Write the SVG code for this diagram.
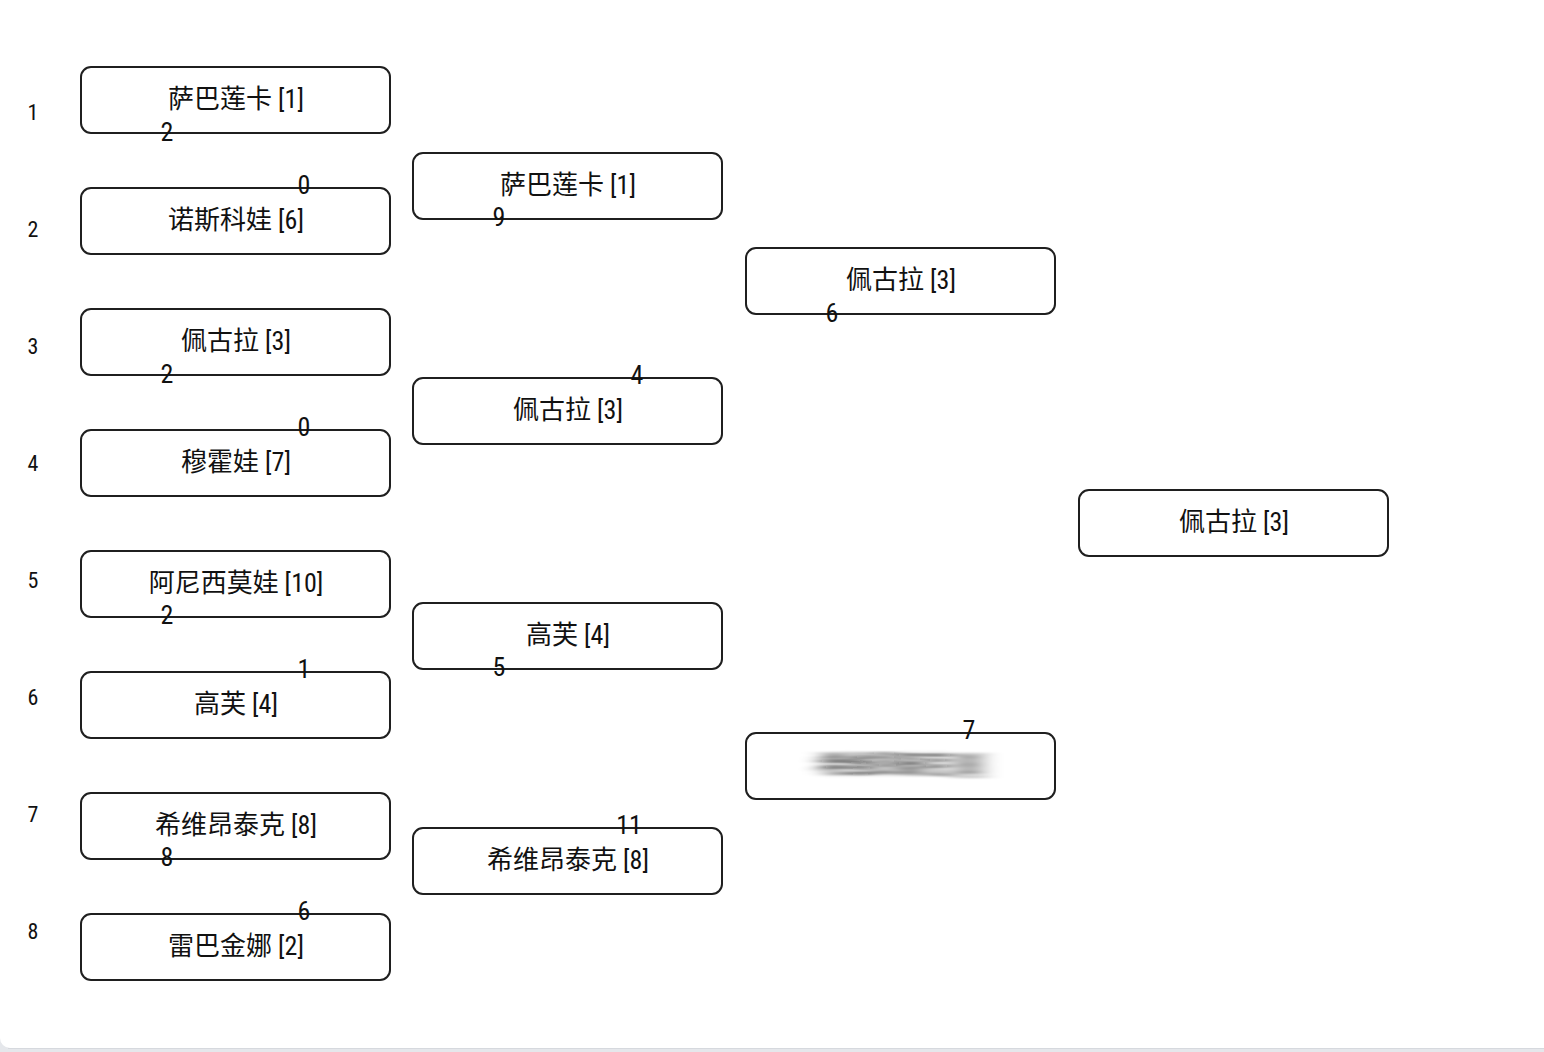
<svg xmlns="http://www.w3.org/2000/svg" width="1544" height="1052" viewBox="0 0 1544 1052">
<defs>
<style>
.box{fill:#fff;stroke:#1f1f1f;stroke-width:2}
.name,.score,.seed{font-family:"Roboto","Noto Sans CJK SC",sans-serif;font-stretch:condensed;fill:#111;text-anchor:middle}
.name{font-size:26px}
.score{font-size:26px}
.seed{font-size:22px}
</style>
<filter id="smear" x="-20%" y="-50%" width="140%" height="200%">
<feGaussianBlur stdDeviation="10 1"/>
</filter>
</defs>
<rect x="0" y="0" width="1544" height="1052" fill="#e5e7eb"/>
<rect x="0" y="-20" width="1560" height="1068" rx="10" fill="#fff"/>
<line x1="8" y1="1048.5" x2="1544" y2="1048.5" stroke="#d6d9de" stroke-width="1"/>

<g id="seeds">
<text class="seed" x="33" y="120">1</text>
<text class="seed" x="33" y="237">2</text>
<text class="seed" x="33" y="354">3</text>
<text class="seed" x="33" y="471">4</text>
<text class="seed" x="33" y="588">5</text>
<text class="seed" x="33" y="705">6</text>
<text class="seed" x="33" y="822">7</text>
<text class="seed" x="33" y="939">8</text>
</g>

<g id="r1m1a"><rect class="box" x="81" y="67" width="309" height="66" rx="10"/><text class="name" x="236" y="108">萨巴莲卡 [1]</text></g>
<g id="r1m1b"><rect class="box" x="81" y="188" width="309" height="66" rx="10"/><text class="name" x="236" y="229">诺斯科娃 [6]</text></g>
<g id="r1m2a"><rect class="box" x="81" y="309" width="309" height="66" rx="10"/><text class="name" x="236" y="350">佩古拉 [3]</text></g>
<g id="r1m2b"><rect class="box" x="81" y="430" width="309" height="66" rx="10"/><text class="name" x="236" y="471">穆霍娃 [7]</text></g>
<g id="r1m3a"><rect class="box" x="81" y="551" width="309" height="66" rx="10"/><text class="name" x="236" y="592">阿尼西莫娃 [10]</text></g>
<g id="r1m3b"><rect class="box" x="81" y="672" width="309" height="66" rx="10"/><text class="name" x="236" y="713">高芙 [4]</text></g>
<g id="r1m4a"><rect class="box" x="81" y="793" width="309" height="66" rx="10"/><text class="name" x="236" y="834">希维昂泰克 [8]</text></g>
<g id="r1m4b"><rect class="box" x="81" y="914" width="309" height="66" rx="10"/><text class="name" x="236" y="955">雷巴金娜 [2]</text></g>

<g id="r2m1a"><rect class="box" x="413" y="153" width="309" height="66" rx="10"/><text class="name" x="568" y="194">萨巴莲卡 [1]</text></g>
<g id="r2m1b"><rect class="box" x="413" y="378" width="309" height="66" rx="10"/><text class="name" x="568" y="419">佩古拉 [3]</text></g>
<g id="r2m2a"><rect class="box" x="413" y="603" width="309" height="66" rx="10"/><text class="name" x="568" y="644">高芙 [4]</text></g>
<g id="r2m2b"><rect class="box" x="413" y="828" width="309" height="66" rx="10"/><text class="name" x="568" y="869">希维昂泰克 [8]</text></g>

<g id="r3m1a"><rect class="box" x="746" y="248" width="309" height="66" rx="10"/><text class="name" x="901" y="289">佩古拉 [3]</text></g>
<g id="r3m1b"><rect class="box" x="746" y="733" width="309" height="66" rx="10"/><text class="name" x="901" y="774" filter="url(#smear)">希维昂泰克 [8]</text></g>

<g id="final"><rect class="box" x="1079" y="490" width="309" height="66" rx="10"/><text class="name" x="1234" y="531">佩古拉 [3]</text></g>

<g id="connectors">
<text class="score" x="167" y="141">2</text>
<text class="score" x="304" y="194">0</text>
<text class="score" x="167" y="383">2</text>
<text class="score" x="304" y="436">0</text>
<text class="score" x="167" y="624">2</text>
<text class="score" x="304" y="678">1</text>
<text class="score" x="167" y="866">8</text>
<text class="score" x="304" y="920">6</text>
<text class="score" x="499" y="226">9</text>
<text class="score" x="637" y="384">4</text>
<text class="score" x="499" y="676">5</text>
<text class="score" x="629" y="834">11</text>
<text class="score" x="832" y="322">6</text>
<text class="score" x="969" y="739">7</text>
</g>
</svg>
